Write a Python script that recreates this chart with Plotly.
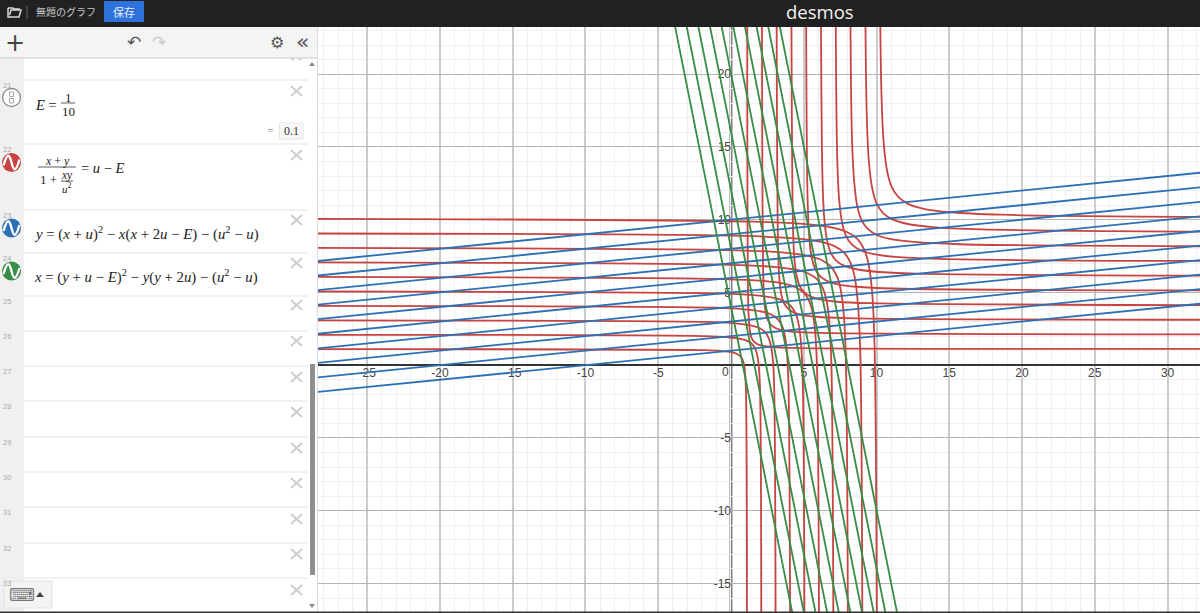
import plotly.graph_objects as go

W, H = 1200, 613

RED = "#c74440"
BLUE = "#2d70b3"
GREEN = "#388c46"

# tick labels
X_TICKS = [-25, -20, -15, -10, -5, 5, 10, 15, 20, 25, 30]
X_TICK_LABELS = ["-25", "-20", "-15", "-10", "-5", "5", "10", "15", "20", "25", "30"]
Y_TICKS = [-15, -10, -5, 5, 10, 15, 20]
Y_TICK_LABELS = ["-15", "-10", "-5", "5", "10", "15", "20"]

# blue lines, y read at the two ends of BLUE_X
BLUE_X = [-30, 34]
BLUE_LEFT = [-2, -1, 0, 1, 2, 3, 4, 5, 6, 7]
BLUE_RIGHT = [4.4, 5.4, 6.4, 7.4, 8.4, 9.4, 10.4, 11.4, 12.4, 13.4]

# green lines, x read at the two ends of GREEN_Y
GREEN_Y = [24, -18]
GREEN_TOP = [-3.99, -3.19, -2.39, -1.59, -0.79, 0.01, 0.81, 1.61, 2.41, 3.21]
GREEN_BOTTOM = [4.41, 5.21, 6.01, 6.81, 7.61, 8.41, 9.21, 10.01, 10.81, 11.61]

# red curves are symmetric about y = x, so y is the same list read backwards
RED_LOW = [
    [-29, -1.79, -0.58, 0.05, 0.39, 0.63, 0.79, 0.89, 0.97, 1.03, 1.10],
    [-29, -1.84, -0.19, 0.66, 1.12, 1.45, 1.67, 1.81, 1.92, 2.00, 2.09],
    [-29, -1.67, 0.32, 1.35, 1.91, 2.31, 2.57, 2.74, 2.88, 2.97, 3.08],
    [-29, -1.37, 0.91, 2.09, 2.73, 3.19, 3.50, 3.69, 3.84, 3.95, 4.08],
    [-29, -0.99, 1.55, 2.87, 3.58, 4.09, 4.43, 4.64, 4.81, 4.93, 5.07],
    [-29, -0.55, 2.22, 3.66, 4.44, 4.99, 5.36, 5.60, 5.79, 5.92, 6.07],
    [-29, -0.08, 2.91, 4.47, 5.31, 5.91, 6.30, 6.56, 6.76, 6.90, 7.06],
    [-29, 0.44, 3.63, 5.29, 6.18, 6.82, 7.25, 7.52, 7.74, 7.89, 8.06],
    [-29, 0.98, 4.36, 6.12, 7.07, 7.75, 8.20, 8.49, 8.71, 8.88, 9.05],
    [-29, 1.55, 5.11, 6.97, 7.96, 8.68, 9.15, 9.45, 9.69, 9.86, 10.05],
]
RED_HIGH = [
    [1.12, 1.19, 1.25, 1.33, 1.43, 1.60, 1.84, 2.18, 2.81, 4.02, 33],
    [2.12, 2.22, 2.29, 2.40, 2.54, 2.76, 3.09, 3.55, 4.41, 6.05, 33],
    [3.12, 3.24, 3.33, 3.46, 3.63, 3.90, 4.29, 4.85, 5.88, 7.87, 33],
    [4.13, 4.26, 4.36, 4.52, 4.71, 5.02, 5.47, 6.11, 7.29, 9.57, 33],
    [5.14, 5.27, 5.39, 5.56, 5.78, 6.12, 6.62, 7.33, 8.65, 11.19, 33],
    [6.15, 6.29, 6.42, 6.61, 6.84, 7.21, 7.76, 8.54, 9.98, 12.75, 33],
    [7.16, 7.30, 7.44, 7.65, 7.90, 8.30, 8.89, 9.73, 11.29, 14.28, 33],
    [8.17, 8.31, 8.47, 8.68, 8.95, 9.38, 10.02, 10.91, 12.57, 15.76, 33],
    [9.18, 9.33, 9.49, 9.72, 10.00, 10.45, 11.13, 12.08, 13.84, 17.22, 33],
    [10.19, 10.34, 10.51, 10.75, 11.05, 11.53, 12.24, 13.24, 15.09, 18.65, 33],
]

# sidebar rows
ROW_LINES = [80, 144, 210, 253, 296, 331, 366, 401, 437, 472, 507, 543, 578]
ROW_NUMBERS = ["21", "22", "23", "24", "25", "26", "27", "28", "29", "30", "31", "32", "33"]
ROW_CROSSES = [91, 155, 220, 263, 305, 341, 377, 412, 448, 483, 519, 554, 590]


def fx(p):
    return p / W


def fy(p):
    return 1 - p / H


def pt(x, y):
    return f"{fx(x)} {fy(y)}"


shapes = []
annotations = []


def box(x0, y0, x1, y1, fill, line=None, width=1):
    shapes.append(dict(type="rect", xref="paper", yref="paper", x0=fx(x0), x1=fx(x1),
                       y0=fy(y1), y1=fy(y0), fillcolor=fill, layer="above",
                       line=dict(color=line or fill, width=width if line else 0)))


def seg(x0, y0, x1, y1, color, width=1):
    shapes.append(dict(type="line", xref="paper", yref="paper", x0=fx(x0), x1=fx(x1),
                       y0=fy(y0), y1=fy(y1), layer="above",
                       line=dict(color=color, width=width)))


def path(d, fill="rgba(0,0,0,0)", line="rgba(0,0,0,0)", width=1):
    shapes.append(dict(type="path", xref="paper", yref="paper", path=d, fillcolor=fill,
                       layer="above", line=dict(color=line, width=width)))


def text(x, y, s, size=12, color="#333", font="Liberation Serif", anchor="left"):
    annotations.append(dict(xref="paper", yref="paper", x=fx(x), y=fy(y), text=s,
                            showarrow=False, xanchor=anchor, yanchor="middle",
                            font=dict(size=size, color=color, family=font)))


def wave_icon(cx, cy, color):
    shapes.append(dict(type="circle", xref="paper", yref="paper", x0=fx(cx - 9.5), x1=fx(cx + 9.5),
                       y0=fy(cy + 9.5), y1=fy(cy - 9.5), fillcolor=color, layer="above",
                       line=dict(width=0)))
    path(f"M {pt(cx - 8, cy + 3)} C {pt(cx - 4, cy - 11)} {pt(cx - 2, cy - 8)} {pt(cx, cy)} "
         f"C {pt(cx + 2, cy + 8)} {pt(cx + 4, cy + 11)} {pt(cx + 8, cy - 3)}",
         line="white", width=2.4)


# top bar
box(0, 0, W, 27, "#212121")
path(f"M {pt(8, 8)} L {pt(8, 17)} L {pt(19, 17)} L {pt(21, 10)} L {pt(11, 10)} L {pt(9.5, 15)} "
     f"M {pt(8, 8)} L {pt(13, 8)} L {pt(14, 9)} L {pt(19, 9)} L {pt(19, 10)}", line="#d8d8d8", width=1.5)
seg(27, 6, 27, 19, "#666", 1)
text(34, 12, "無題のグラフ", 10, "#c8c8c8", "Noto Sans CJK JP")
box(104, 1, 144, 22, "#2f72dc")
text(124, 12, "保存", 11, "#e8f0fc", "Noto Sans CJK JP", "center")
text(820, 12, "desmos", 18.5, "#f2f2f2", "Open Sans", "center")

# sidebar
box(0, 27, 318, H, "white")
box(0, 58, 24, H, "#f0f0f0")
box(0, 27, 318, 58, "#f4f4f4")
seg(317.5, 27, 317.5, H, "#dcdcdc", 1)
text(15, 43, "+", 24, "#444", "DejaVu Sans", "center")
text(134, 42, "↶", 17, "#555", "DejaVu Sans", "center")
text(159, 42, "↷", 17, "#c8c8c8", "DejaVu Sans", "center")
text(277, 43, "⚙", 16, "#555", "DejaVu Sans", "center")
text(302, 41, "«", 22, "#555", "DejaVu Sans", "center")

for y, num in zip(ROW_LINES, ROW_NUMBERS):
    seg(24, y, 308, y, "#e4e4e4", 1)
    text(1, y + 5, num, 7.5, "#aaa", "Liberation Sans")
for y in ROW_CROSSES:
    seg(291, y - 5, 302, y + 5, "#cfcfcf", 2.2)
    seg(291, y + 5, 302, y - 5, "#cfcfcf", 2.2)
# the cross of the row scrolled under the toolbar
seg(291, 58, 294, 60, "#cfcfcf", 2.2)
seg(302, 58, 299, 60, "#cfcfcf", 2.2)
seg(0, 58, 318, 58, "#d8d8d8", 1.5)

# scrollbar
box(310, 364, 315, 575, "#8f8f8f")
path(f"M {pt(309, 66)} L {pt(315, 66)} L {pt(312, 62)} Z", fill="#888")
path(f"M {pt(309, 604)} L {pt(315, 604)} L {pt(312, 608)} Z", fill="#888")

# keyboard button
box(4, 581, 52, 608, "#f3f3f3", "#e2e2e2", 1)
text(22, 594, "⌨", 18, "#777", "DejaVu Sans", "center")
path(f"M {pt(36, 597)} L {pt(44, 597)} L {pt(40, 592)} Z", fill="#444")

# row icons
shapes.append(dict(type="circle", xref="paper", yref="paper", x0=fx(2.5), x1=fx(20.5), y0=fy(106.5),
                   y1=fy(88.5), fillcolor="white", layer="above", line=dict(color="#8a8a8a", width=1.3)))
box(9.5, 92, 13.5, 96.5, "white", "#aaa", 1)
box(9.5, 98.5, 13.5, 103, "white", "#aaa", 1)
wave_icon(11.5, 162.5, RED)
wave_icon(11.5, 228, BLUE)
wave_icon(11.5, 271, GREEN)

# row 21
text(33, 105, "<i>E</i> =", 14.5, "#222")
text(68, 97, "1", 13, "#222", anchor="center")
seg(61, 103, 75, 103, "#333", 0.8)
text(68, 111, "10", 13, "#222", anchor="center")
text(270, 131, "=", 12, "#999", anchor="center")
box(279.5, 123, 303, 139, "#f8f8f8", "#e4e4e4", 1)
text(291, 131, "0.1", 12, "#333", anchor="center")

# row 22
text(57, 161, "<i>x</i> + <i>y</i>", 12, "#222", anchor="center")
seg(38, 167, 76, 167, "#333", 0.8)
text(38, 179, "1 +", 13, "#222")
text(67, 175, "<i>xy</i>", 11.5, "#222", anchor="center")
seg(61, 181, 73, 181, "#333", 0.8)
text(67, 188, "<i>u</i><sup>2</sup>", 11, "#222", anchor="center")
text(79, 168, "= <i>u</i> − <i>E</i>", 14.5, "#222")

# rows 23 and 24
text(32, 233, "<i>y</i> = (<i>x</i> + <i>u</i>)<sup>2</sup> − <i>x</i>(<i>x</i> + 2<i>u</i> − <i>E</i>)"
     " − (<i>u</i><sup>2</sup> − <i>u</i>)", 14.8, "#222")
text(32, 276, "<i>x</i> = (<i>y</i> + <i>u</i> − <i>E</i>)<sup>2</sup> − <i>y</i>(<i>y</i> + 2<i>u</i>)"
     " − (<i>u</i><sup>2</sup> − <i>u</i>)", 14.8, "#222")

# bottom edge of the window
box(0, 611.5, W, H, "#333")

# the y axis, thick and grey, under the curves
shapes.append(dict(type="line", xref="x", yref="paper", x0=0, x1=0, y0=fy(612), y1=fy(27),
                   layer="below", line=dict(color="#808080", width=3)))

# the 0 label sits left of the y axis
annotations.append(dict(xref="x", yref="y", x=0, y=0, text="0", showarrow=False, xshift=-5, yshift=-7,
                        font=dict(size=12, color="#444", family="Liberation Sans")))

fig = go.Figure()
for low, high in zip(RED_LOW, RED_HIGH):
    for xs in (low, high):
        fig.add_trace(go.Scatter(x=xs, y=xs[::-1], mode="lines", showlegend=False,
                                 line=dict(color=RED, width=1.8, shape="spline")))
for left, right in zip(BLUE_LEFT, BLUE_RIGHT):
    fig.add_trace(go.Scatter(x=BLUE_X, y=[left, right], mode="lines", showlegend=False,
                             line=dict(color=BLUE, width=1.8)))
for top, bottom in zip(GREEN_TOP, GREEN_BOTTOM):
    fig.add_trace(go.Scatter(x=[top, bottom], y=GREEN_Y, mode="lines", showlegend=False,
                             line=dict(color=GREEN, width=1.8)))

tick_font = dict(size=12, color="#444", family="Liberation Sans", shadow="white 0 0 3px")
fig.update_layout(
    width=W,
    height=H,
    margin=dict(l=0, r=0, t=0, b=0),
    paper_bgcolor="white",
    plot_bgcolor="white",
    shapes=shapes,
    annotations=annotations,
    showlegend=False,
)
fig.update_xaxes(
    domain=[fx(318), 1],
    range=[-28.38, 32.23],
    anchor="free",
    position=fy(365.2),
    tickmode="array",
    tickvals=X_TICKS,
    ticktext=X_TICK_LABELS,
    tickfont=tick_font,
    ticklabelstandoff=-3,
    ticks="",
    showline=True,
    linecolor="#333",
    linewidth=1.5,
    zeroline=False,
    gridcolor="#cccccc",
    gridwidth=1.5,
    layer="below traces",
    minor=dict(tickmode="linear", tick0=0, dtick=1, showgrid=True, gridcolor="#f0f0f0", gridwidth=1),
)
fig.update_yaxes(
    domain=[fy(612), fy(27)],
    range=[-16.96, 23.24],
    anchor="free",
    position=fx(731),
    tickmode="array",
    tickvals=Y_TICKS,
    ticktext=Y_TICK_LABELS,
    tickfont=tick_font,
    ticks="",
    showline=False,
    zeroline=False,
    gridcolor="#b4b4b4",
    gridwidth=1,
    layer="below traces",
    minor=dict(tickmode="linear", tick0=0, dtick=1, showgrid=True, gridcolor="#f0f0f0", gridwidth=1),
)

fig.write_html("out.html", config={"displayModeBar": False},
               post_script="document.body.style.margin = '0';")
